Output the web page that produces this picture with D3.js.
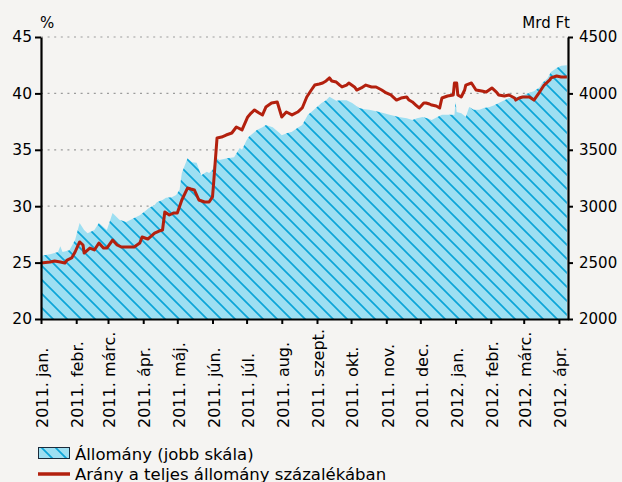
<!DOCTYPE html>
<html>
<head>
<meta charset="utf-8">
<script src="https://cdn.jsdelivr.net/npm/d3@7"></script>
<style>
    body {margin: 0; background: #f5f4f2;}
    svg {display: block; font-family: "DejaVu Sans", sans-serif;}
</style>
</head>
<body>
<svg id="chart" width="622" height="482"></svg>
<script>
// Állomány (Mrd Ft, jobb skála)
const stockDates = ["2011-01-01","2011-01-09","2011-01-16","2011-01-18","2011-01-20","2011-01-26","2011-01-31",
    "2011-02-04","2011-02-08","2011-02-11","2011-02-17","2011-02-21","2011-02-28","2011-03-05","2011-03-11",
    "2011-03-17","2011-03-24","2011-03-29","2011-04-02","2011-04-06","2011-04-11","2011-04-13","2011-04-18",
    "2011-04-21","2011-04-26","2011-04-30","2011-05-03","2011-05-05","2011-05-10","2011-05-14","2011-05-18",
    "2011-05-22","2011-05-27","2011-05-29","2011-06-01","2011-06-04","2011-06-07","2011-06-14","2011-06-20",
    "2011-06-25","2011-06-27","2011-07-01","2011-07-03","2011-07-10","2011-07-15","2011-07-18","2011-07-24",
    "2011-07-30","2011-08-01","2011-08-06","2011-08-10","2011-08-15","2011-08-19","2011-08-24","2011-08-27",
    "2011-08-31","2011-09-05","2011-09-09","2011-09-12","2011-09-18","2011-09-22","2011-09-27","2011-10-02",
    "2011-10-08","2011-10-13","2011-10-17","2011-10-26","2011-11-04","2011-11-12","2011-11-19","2011-11-24",
    "2011-11-28","2011-12-03","2011-12-07","2011-12-11","2011-12-16","2011-12-20","2011-12-26","2011-12-31",
    "2012-01-01","2012-01-02","2012-01-06","2012-01-10","2012-01-13","2012-01-17","2012-01-22","2012-01-26",
    "2012-01-31","2012-02-04","2012-02-08","2012-02-13","2012-02-17","2012-02-22","2012-02-26","2012-03-01",
    "2012-03-06","2012-03-10","2012-03-15","2012-03-17","2012-03-22","2012-03-25","2012-03-30","2012-04-03",
    "2012-04-08"]
const stockValues = [2560,2575,2595,2645,2595,2610,2700,
    2850,2790,2760,2790,2850,2790,2940,2880,
    2860,2895,2920,2950,2985,3010,3035,3055,
    3075,3080,3100,3145,3295,3425,3390,3385,
    3275,3305,3295,3320,3435,3410,3425,3435,
    3515,3500,3585,3615,3675,3700,3720,3700,
    3650,3630,3650,3660,3695,3720,3810,3835,
    3870,3915,3940,3970,3935,3940,3940,3915,
    3870,3860,3855,3835,3810,3790,3780,3765,
    3780,3790,3780,3765,3790,3810,3810,3810,
    3925,3835,3825,3790,3880,3855,3855,3870,
    3880,3895,3915,3940,3960,3960,3970,3985,
    4005,4020,4055,4090,4135,4190,4225,4245,
    4250]

// Arány a teljes állomány százalékában (%, bal skála)
const ratioDates = ["2011-01-01","2011-01-09","2011-01-13","2011-01-18","2011-01-22","2011-01-24","2011-01-28",
    "2011-01-31","2011-02-04","2011-02-07","2011-02-08","2011-02-13","2011-02-17","2011-02-21","2011-02-25",
    "2011-02-28","2011-03-05","2011-03-09","2011-03-13","2011-03-18","2011-03-24","2011-03-29","2011-03-31",
    "2011-04-05","2011-04-06","2011-04-11","2011-04-15","2011-04-18","2011-04-20","2011-04-24","2011-04-28",
    "2011-05-01","2011-05-05","2011-05-10","2011-05-13","2011-05-16","2011-05-20","2011-05-25","2011-05-29",
    "2011-06-01","2011-06-02","2011-06-04","2011-06-05","2011-06-09","2011-06-13","2011-06-18","2011-06-22",
    "2011-06-27","2011-07-02","2011-07-05","2011-07-08","2011-07-12","2011-07-15","2011-07-18","2011-07-23",
    "2011-07-28","2011-08-01","2011-08-05","2011-08-10","2011-08-15","2011-08-19","2011-08-23","2011-08-27",
    "2011-08-30","2011-09-03","2011-09-06","2011-09-09","2011-09-12","2011-09-14","2011-09-18","2011-09-21",
    "2011-09-23","2011-09-27","2011-09-29","2011-10-04","2011-10-06","2011-10-10","2011-10-14","2011-10-19",
    "2011-10-23","2011-10-28","2011-11-01","2011-11-05","2011-11-10","2011-11-14","2011-11-19","2011-11-21",
    "2011-11-24","2011-11-27","2011-11-30","2011-12-04","2011-12-06","2011-12-09","2011-12-11","2011-12-15",
    "2011-12-18","2011-12-20","2011-12-25","2011-12-30","2011-12-31","2012-01-02","2012-01-03","2012-01-06",
    "2012-01-09","2012-01-10","2012-01-15","2012-01-19","2012-01-24","2012-01-28","2012-02-02","2012-02-06",
    "2012-02-08","2012-02-13","2012-02-17","2012-02-22","2012-02-23","2012-02-26","2012-02-29","2012-03-03",
    "2012-03-06","2012-03-10","2012-03-15","2012-03-19","2012-03-24","2012-03-25","2012-03-30","2012-04-03",
    "2012-04-08"]
const ratioValues = [24.96,25.05,25.14,25.05,24.96,25.23,25.41,
    25.94,26.83,26.56,25.85,26.29,26.12,26.74,26.29,
    26.29,27.0,26.56,26.38,26.38,26.38,26.74,27.27,
    27.09,27.18,27.62,27.8,27.89,29.49,29.22,29.4,
    29.4,30.55,31.61,31.52,31.44,30.55,30.37,30.37,
    30.82,32.06,34.72,36.05,36.13,36.31,36.49,37.02,
    36.76,37.91,38.26,38.53,38.26,38.09,38.79,39.15,
    39.24,37.91,38.35,38.09,38.35,38.71,39.68,40.3,
    40.74,40.83,40.92,41.1,41.37,41.1,41.01,40.74,
    40.57,40.74,40.92,40.57,40.3,40.48,40.74,40.57,
    40.57,40.3,40.04,39.86,39.41,39.59,39.68,39.41,
    39.24,38.97,38.71,39.15,39.15,39.06,38.97,38.88,
    38.71,39.59,39.77,39.86,40.92,40.92,39.86,39.68,
    40.3,40.74,40.92,40.3,40.21,40.12,40.48,40.12,
    39.86,39.77,39.86,39.59,39.41,39.59,39.68,39.68,
    39.68,39.41,40.12,40.74,41.19,41.37,41.54,41.45,
    41.45]

const monthLabels = ["2011. jan.","2011. febr.","2011. márc.","2011. ápr.","2011. máj.","2011. jún.",
    "2011. júl.","2011. aug.","2011. szept.","2011. okt.","2011. nov.","2011. dec.",
    "2012. jan.","2012. febr.","2012. márc.","2012. ápr."]
const leftTicks = [20, 25, 30, 35, 40, 45]
const rightTicks = [2000, 2500, 3000, 3500, 4000, 4500]
const legendLabels = ["Állomány (jobb skála)", "Arány a teljes állomány százalékában"]

const parseDate = d3.timeParse("%Y-%m-%d")
const stock = stockDates.map((d, i) => ({date: parseDate(d), value: stockValues[i]}))
const ratio = ratioDates.map((d, i) => ({date: parseDate(d), value: ratioValues[i]}))

const plot = {left: 41, right: 568, top: 37, bottom: 319}
const lineColor = "#b3200e"

const svg = d3.select("#chart")

const x = d3.scaleTime()
    .domain([parseDate("2011-01-01"), parseDate("2012-04-09")])
    .range([plot.left, plot.right])
const yLeft = d3.scaleLinear().domain([20, 45]).range([plot.bottom, plot.top])
const yRight = d3.scaleLinear().domain([2000, 4500]).range([plot.bottom, plot.top])

// hatch pattern for the area
const defs = svg.append("defs")
const pattern = defs.append("pattern")
    .attr("id", "hatch")
    .attr("patternUnits", "userSpaceOnUse")
    .attr("width", 14)
    .attr("height", 14)
pattern.append("rect").attr("width", 14).attr("height", 14).attr("fill", "#9ddff2")
pattern.append("path")
    .attr("d", "M-2,-2L16,16M12,-2L16,2M-2,12L2,16")
    .attr("stroke", "#0ba5d8")
    .attr("stroke-width", 1.7)

// gridlines
svg.append("g")
    .selectAll("line")
    .data(leftTicks.slice(1))
    .enter()
    .append("line")
    .attr("x1", plot.left)
    .attr("x2", plot.right)
    .attr("y1", d => yLeft(d))
    .attr("y2", d => yLeft(d))
    .attr("stroke", "#9b9b9b")
    .attr("stroke-width", 1.2)
    .attr("stroke-dasharray", "2,4.6")

// area
const area = d3.area()
    .x(d => x(d.date))
    .y0(plot.bottom)
    .y1(d => yRight(d.value))
svg.append("path")
    .datum(stock)
    .attr("d", area)
    .attr("fill", "url(#hatch)")

// line
const line = d3.line()
    .x(d => x(d.date))
    .y(d => yLeft(d.value))
svg.append("path")
    .datum(ratio)
    .attr("d", line)
    .attr("fill", "none")
    .attr("stroke", lineColor)
    .attr("stroke-width", 3)
    .attr("stroke-linejoin", "round")

// axes
const styleAxis = g => {
    g.select(".domain").attr("stroke", "#000").attr("stroke-width", 2.2)
    g.selectAll(".tick line").attr("stroke", "#000").attr("stroke-width", 2)
}

svg.append("g")
    .attr("transform", "translate(" + plot.left + ",0)")
    .call(d3.axisLeft(yLeft).tickValues(leftTicks).tickSize(6).tickSizeOuter(0).tickPadding(3))
    .call(styleAxis)
    .selectAll("text")
    .attr("fill", "#000")
    .style("font-size", "15.5px")
    .style("font-family", "DejaVu Sans")

svg.append("g")
    .attr("transform", "translate(" + plot.right + ",0)")
    .call(d3.axisRight(yRight).tickValues(rightTicks).tickFormat(d3.format("d"))
        .tickSize(5).tickSizeOuter(0).tickPadding(6))
    .call(styleAxis)
    .selectAll("text")
    .attr("fill", "#000")
    .style("font-size", "15px")
    .style("font-family", "DejaVu Sans")

const months = d3.timeMonth.range(parseDate("2011-01-01"), parseDate("2012-04-09"))
const xAxis = svg.append("g")
    .attr("transform", "translate(0," + plot.bottom + ")")
    .call(d3.axisBottom(x).tickValues(months).tickSize(5).tickSizeOuter(0)
        .tickFormat((d, i) => monthLabels[i]))
    .call(styleAxis)
xAxis.selectAll("text")
    .attr("fill", "#000")
    .attr("y", 0)
    .attr("x", 0)
    .attr("dy", "0.36em")
    .attr("transform", "translate(1," + (428 - plot.bottom) + ") rotate(-90)")
    .style("text-anchor", "start")
    .style("font-size", "16px")
    .style("font-family", "DejaVu Sans")

// unit labels
svg.append("text")
    .attr("x", 40)
    .attr("y", 28)
    .style("font-size", "15px")
    .text("%")
svg.append("text")
    .attr("x", 570)
    .attr("y", 28)
    .style("font-size", "15px")
    .style("text-anchor", "end")
    .text("Mrd Ft")

// legend
const legend = svg.append("g")
legend.append("rect")
    .attr("x", 38.5)
    .attr("y", 447.5)
    .attr("width", 31)
    .attr("height", 11)
    .attr("fill", "url(#hatch)")
    .attr("stroke", "#1b2a3a")
    .attr("stroke-width", 1)
legend.append("line")
    .attr("x1", 38)
    .attr("x2", 70)
    .attr("y1", 474)
    .attr("y2", 474)
    .attr("stroke", lineColor)
    .attr("stroke-width", 3.5)
legend.selectAll("text")
    .data(legendLabels)
    .enter()
    .append("text")
    .attr("x", 75)
    .attr("y", (d, i) => 459.5 + i * 20)
    .style("font-size", "16.5px")
    .text(d => d)
</script>
</body>
</html>
